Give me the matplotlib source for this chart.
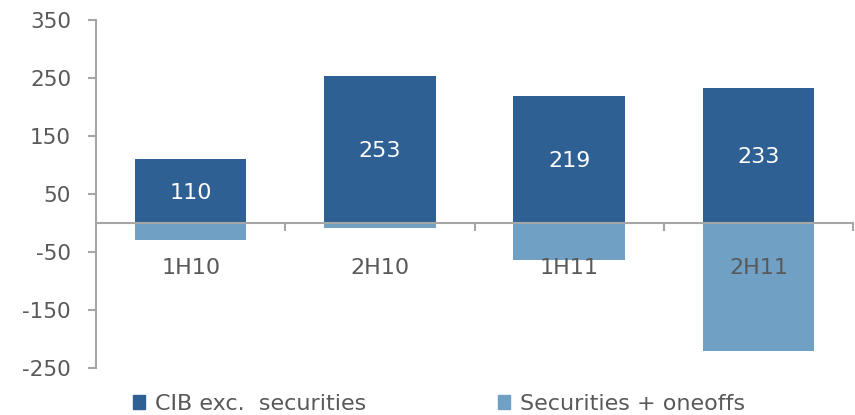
import matplotlib
matplotlib.use('Agg')
import matplotlib.pyplot as plt
from matplotlib.patches import Patch

# Data
periods = ['1H10', '2H10', '1H11', '2H11']
cib_exc_securities = [110, 253, 219, 233]
securities_oneoffs = [-30, -8, -64, -221]
series_names = ['CIB exc.  securities', 'Securities + oneoffs']

dark_blue = '#2F6094'
light_blue = '#70A0C4'
grey_text = '#595959'
axis_grey = '#A6A6A6'

plt.rcParams['font.family'] = ['DejaVu Sans']
plt.rcParams['axes.unicode_minus'] = False

fig = plt.figure(figsize=(8.55, 4.15), dpi=100)
ax = fig.add_axes([96 / 855, 1 - 368 / 415, 757 / 855, 348 / 415])

x = list(range(len(periods)))
ax.bar(x, cib_exc_securities, width=0.59, color=dark_blue, zorder=2)
ax.bar(x, securities_oneoffs, width=0.59, color=light_blue, zorder=2)

# Value labels in the dark bars
for xi, v in zip(x, cib_exc_securities):
    ax.text(xi, v / 2 - 3, str(v), ha='center', va='center', color='white',
            fontsize=16, zorder=4)

ax.set_xlim(-0.5, len(periods) - 0.5)
ax.set_ylim(-250, 350)
ax.set_yticks([350, 250, 150, 50, -50, -150, -250])

# Axes styling
for side in ['top', 'right']:
    ax.spines[side].set_visible(False)
ax.spines['left'].set_color(axis_grey)
ax.spines['left'].set_linewidth(1.5)
ax.spines['bottom'].set_position(('data', 0))
ax.spines['bottom'].set_color(axis_grey)
ax.spines['bottom'].set_linewidth(1.5)
ax.spines['bottom'].set_zorder(3)

ax.tick_params(axis='y', colors=axis_grey, labelcolor=grey_text,
               labelsize=15.5, length=6, width=1.5, pad=12)
# category boundaries get ticks, labels sit below zero line
ax.set_xticks([i + 0.5 for i in x[:-1]] + [len(periods) - 0.5])
ax.set_xticklabels([])
ax.tick_params(axis='x', colors=axis_grey, length=6, width=1.5)
for xi, p in zip(x, periods):
    ax.text(xi, -78, p, ha='center', va='center', color=grey_text,
            fontsize=16, zorder=4)

handles = [Patch(color=dark_blue), Patch(color=light_blue)]
fig.legend(handles, series_names, loc='lower left',
           bbox_to_anchor=(113 / 855, -0.045), ncol=2, frameon=False,
           fontsize=16, labelcolor=grey_text, handlelength=0.55,
           handleheight=0.55, handletextpad=0.45, columnspacing=5.9)

fig.savefig('out.png', dpi=100)
